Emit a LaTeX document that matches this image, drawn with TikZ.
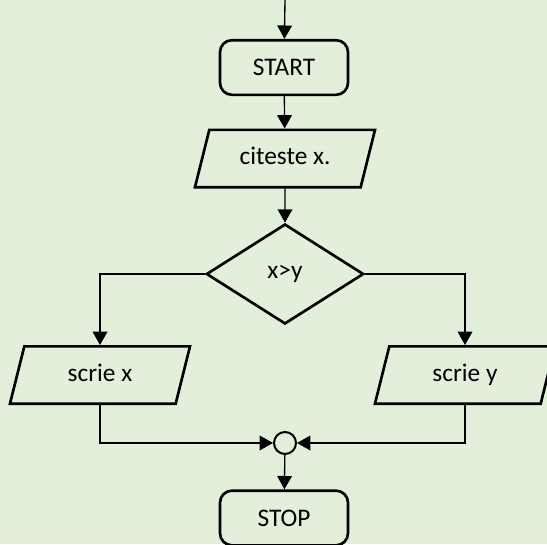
\documentclass[tikz,border=0pt]{standalone}
\usepackage{fontspec}
\setmainfont{Carlito}
\usepackage{tikz}
\usetikzlibrary{shapes.geometric, arrows.meta, positioning}
\definecolor{bggreen}{RGB}{226,239,218}

\begin{document}
\begin{tikzpicture}[
  x=0.75pt, y=-0.75pt,
  font=\fontsize{19}{23}\selectfont,
  term/.style={draw, line width=2pt, rounded corners=9pt,
               minimum width=96pt, minimum height=41pt, inner sep=0pt},
  io/.style={draw, line width=2pt, trapezium, trapezium left angle=76,
             trapezium right angle=104, trapezium stretches body,
             minimum width=135pt, inner xsep=0pt, inner ysep=16pt,
             text height=10pt, text depth=1pt},
  decision/.style={draw, line width=2pt, diamond, aspect=1.55,
                   minimum width=118pt, minimum height=75pt, inner sep=0pt},
  joint/.style={draw, line width=1.5pt, circle, minimum size=16.5pt,
                inner sep=0pt},
  arrow/.style={-{Triangle[width=11pt,length=10pt]}, line width=1pt},
]
\fill[bggreen] (0,0) rectangle (547,544);
\useasboundingbox (0,0) rectangle (547,544);

\coordinate (entry) at (285,0);
\node[term] (start) at (284,67.5) {START};
\node[io] (read) at (285,158.5) {citeste x.};
\node[decision] (cond) at (285,274) {x>y};
\node[io] (outx) at (100,375) {scrie x};
\node[io] (outy) at (465,375) {scrie y};
\node[joint] (join) at (285,443) {};
\node[term] (stop) at (284,518) {STOP};

\draw[arrow] (entry) -- (start);
\draw[arrow] (start) -- (read);
\draw[arrow] (read) -- (cond);
\draw[arrow] (cond.west) -| (outx.north);
\draw[arrow] (cond.east) -| (outy.north);
\draw[arrow] (outx.south) |- (join.west);
\draw[arrow] (outy.south) |- (join.east);
\draw[arrow] (join) -- (stop);
\end{tikzpicture}
\end{document}
